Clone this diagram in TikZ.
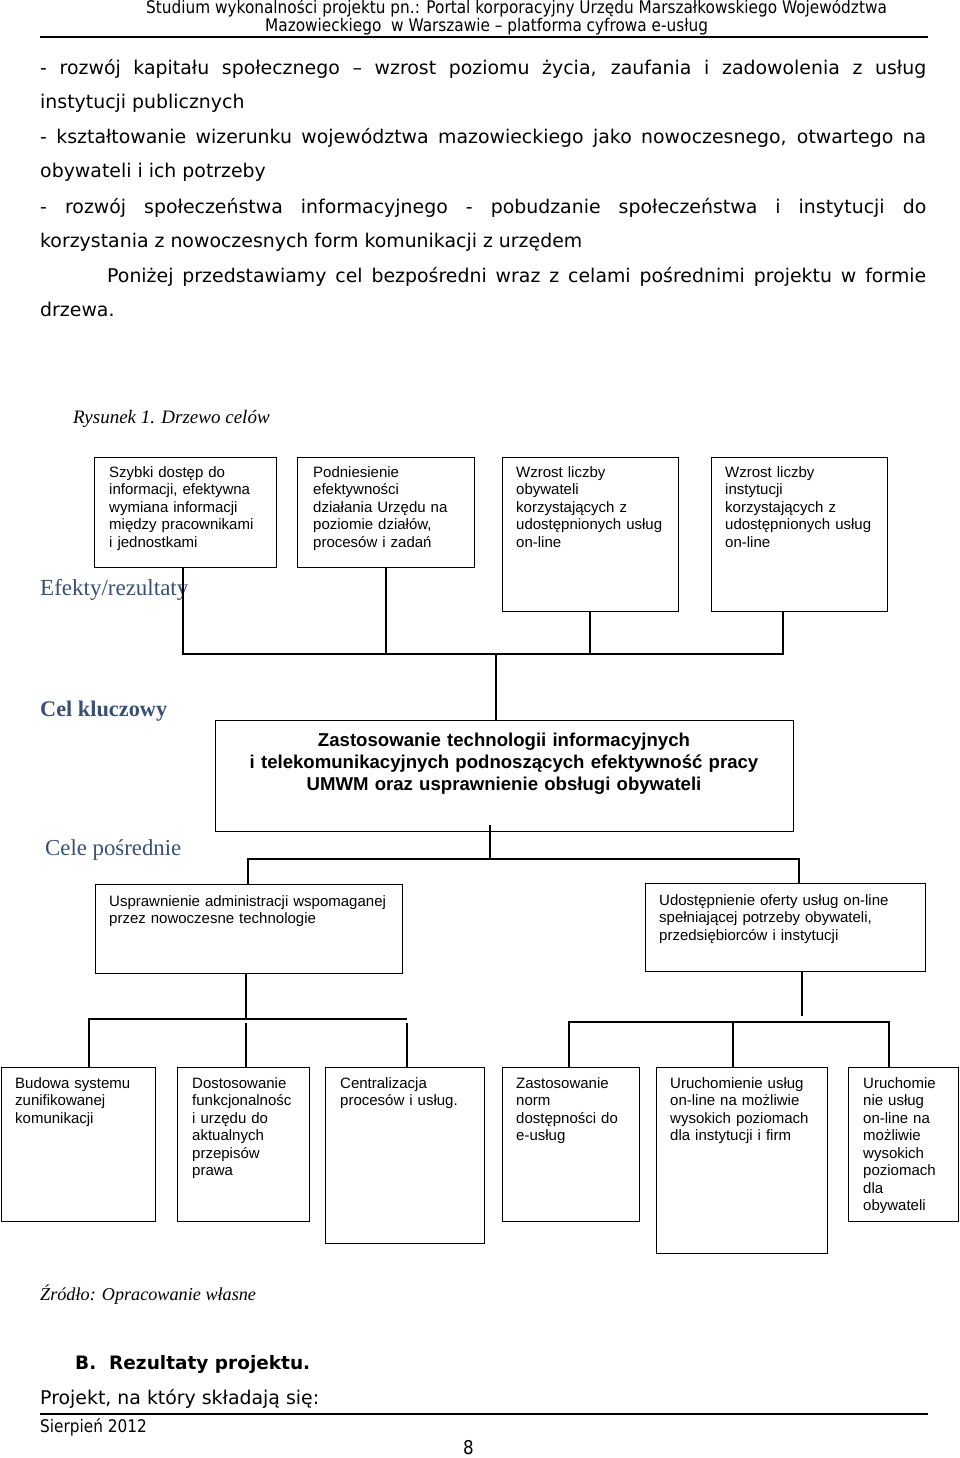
\documentclass[tikz,border=0pt]{standalone}
\usepackage{fontspec}
\setmainfont{Liberation Serif}
\newfontfamily\verd{DejaVu Sans}
\newfontfamily\ari{Liberation Sans}
\newfontfamily\hdr[FakeStretch=0.88]{DejaVu Sans}
\definecolor{lab}{RGB}{55,80,115}
\tikzset{
  box/.style={draw, line width=1.4pt, anchor=north west, inner sep=0pt},
  conn/.style={line width=1.4pt},
  btxt/.style={anchor=base west, inner sep=0pt, text width=300pt, align=left, font=\ari\fontsize{15}{17.5}\selectfont},
  body/.style={anchor=base west, inner sep=0pt, font=\verd\fontsize{18.9}{22}\selectfont},
  hd/.style={anchor=base west, inner sep=0pt, font=\hdr\fontsize{17.4}{20}\selectfont},
  lbl/.style={anchor=base west, inner sep=0pt, text=lab, font=\fontsize{23}{26}\selectfont},
}
\begin{document}
\begin{tikzpicture}[x=1pt,y=-1pt]
\useasboundingbox (0,0) rectangle (960,1458);
% header
\node[hd] (h1) at (146,14) {Studium wykonalności projektu pn.: Portal korporacyjny Urzędu Marszałkowskiego Województwa};
\node[hd] (h2) at (265,32) {Mazowieckiego\ \ w Warszawie – platforma cyfrowa e-usług};
\draw[line width=1.2pt] (40,37) coordinate (hr1) -- (928,37) coordinate (hr2);
% body text
\node[body] (t1) at (40,75) {\makebox[886pt][s]{- rozwój kapitału społecznego – wzrost poziomu życia, zaufania i zadowolenia z usług}};
\node[body] (t2) at (40,109) {instytucji publicznych};
\node[body] (t3) at (40,144) {\makebox[886pt][s]{- kształtowanie wizerunku województwa mazowieckiego jako nowoczesnego, otwartego na}};
\node[body] (t4) at (40,178) {obywateli i ich potrzeby};
\node[body] (t5) at (40,213) {\makebox[886pt][s]{- rozwój społeczeństwa informacyjnego - pobudzanie społeczeństwa i instytucji do}};
\node[body] (t6) at (40,247) {korzystania z nowoczesnych form komunikacji z urzędem};
\node[body] (t7) at (107,282) {\makebox[819pt][s]{Poniżej przedstawiamy cel bezpośredni wraz z celami pośrednimi projektu w formie}};
\node[body] (t8) at (40,316) {drzewa.};
\node[anchor=base west, inner sep=0pt, font=\itshape\fontsize{19}{22}\selectfont] (rys) at (73,423) {Rysunek 1. Drzewo celów};
% effects boxes
\node[box, minimum width=182pt, minimum height=110pt] (e1) at (94,457) {};
\node[box, minimum width=177pt, minimum height=110pt] (e2) at (297,457) {};
\node[box, minimum width=176pt, minimum height=154pt] (e3) at (502,457) {};
\node[box, minimum width=176pt, minimum height=154pt] (e4) at (711,457) {};
\node[btxt] (e1t) at (109,477) {Szybki dostęp do\\informacji, efektywna\\wymiana informacji\\między pracownikami\\i jednostkami};
\node[btxt] (e2t) at (313,477) {Podniesienie\\efektywności\\działania Urzędu na\\poziomie działów,\\procesów i zadań};
\node[btxt] (e3t) at (516,477) {Wzrost liczby\\obywateli\\korzystających z\\udostępnionych usług\\on-line};
\node[btxt] (e4t) at (725,477) {Wzrost liczby\\instytucji\\korzystających z\\udostępnionych usług\\on-line};
\node[lbl] (lef) at (40,595) {Efekty/rezultaty};
% connectors top
\coordinate (c1) at (183,654);
\coordinate (c2) at (386,654);
\coordinate (c3) at (590,654);
\coordinate (c4) at (783,654);
\coordinate (c0) at (496,654);
\draw[conn] (c1 |- e1.south) -- (c1) -- (c4) -- (c4 |- e4.south);
\draw[conn] (c2 |- e2.south) -- (c2);
\draw[conn] (c3 |- e3.south) -- (c3);
% key box
\node[lbl, font=\bfseries\fontsize{22.3}{26}\selectfont] (lkey) at (40,716) {Cel kluczowy};
\node[box, minimum width=578pt, minimum height=111pt] (key) at (215,720) {};
\draw[conn] (c0) -- (c0 |- key.north);
\node[anchor=base, inner sep=0pt, text width=570pt, align=center, font=\ari\bfseries\fontsize{18.6}{22}\selectfont] (keyt) at (504,746) {Zastosowanie technologii informacyjnych\\i telekomunikacyjnych podnoszących efektywność pracy\\UMWM oraz usprawnienie obsługi obywateli};
\node[lbl, font=\fontsize{22.8}{26}\selectfont] (lcel) at (45,855) {Cele pośrednie};
% middle boxes
\node[box, minimum width=307pt, minimum height=89pt] (m1) at (95,884) {};
\node[box, minimum width=280pt, minimum height=88pt] (m2) at (645,883) {};
\node[btxt, text width=400pt] (m1t) at (109,906) {Usprawnienie administracji wspomaganej\\przez nowoczesne technologie};
\node[btxt, text width=400pt] (m2t) at (659,905) {Udostępnienie oferty usług on-line\\spełniającej potrzeby obywateli,\\przedsiębiorców i instytucji};
\coordinate (k0) at (490,825);
\coordinate (k1) at (490,859);
\coordinate (kl) at (248,859);
\coordinate (kr) at (799,859);
\draw[conn] (k0) -- (k1);
\draw[conn] (kl |- m1.north) -- (kl) -- (kr) -- (kr |- m2.north);
% bottom boxes
\node[box, minimum width=154pt, minimum height=154pt] (b1) at (1,1067) {};
\node[box, minimum width=132pt, minimum height=154pt] (b2) at (177,1067) {};
\node[box, minimum width=159pt, minimum height=176pt] (b3) at (325,1067) {};
\node[box, minimum width=137pt, minimum height=154pt] (b4) at (502,1067) {};
\node[box, minimum width=171pt, minimum height=186pt] (b5) at (656,1067) {};
\node[box, minimum width=110pt, minimum height=154pt] (b6) at (848,1067) {};
\node[btxt] (b1t) at (15,1088) {Budowa systemu\\zunifikowanej\\komunikacji};
\node[btxt] (b2t) at (192,1088) {Dostosowanie\\funkcjonalnośc\\i urzędu do\\aktualnych\\przepisów\\prawa};
\node[btxt] (b3t) at (340,1088) {Centralizacja\\procesów i usług.};
\node[btxt] (b4t) at (516,1088) {Zastosowanie\\norm\\dostępności do\\e-usług};
\node[btxt] (b5t) at (670,1088) {Uruchomienie usług\\on-line na możliwie\\wysokich poziomach\\dla instytucji i firm};
\node[btxt] (b6t) at (863,1088) {Uruchomie\\nie usług\\on-line na\\możliwie\\wysokich\\poziomach\\dla\\obywateli};
% left subtree
\coordinate (l0) at (246,1019);
\coordinate (l1) at (89,1019);
\coordinate (l3) at (407,1019);
\draw[conn] (l0 |- m1.south) -- (l0);
\draw[conn] (l1 |- b1.north) -- (l1) -- (l3);
\draw[conn] (246,1023) coordinate (l2a) -- (l2a |- b2.north);
\draw[conn] (407,1023) coordinate (l3a) -- (l3a |- b3.north);
% right subtree
\coordinate (r0) at (802,1016);
\coordinate (r1) at (569,1022);
\coordinate (r2) at (733,1022);
\coordinate (r3) at (889,1022);
\draw[conn] (r0 |- m2.south) -- (r0);
\draw[conn] (r1 |- b4.north) -- (r1) -- (r3) -- (r3 |- b6.north);
\draw[conn] (r2) -- (r2 |- b5.north);
% footer
\node[anchor=base west, inner sep=0pt, font=\itshape\fontsize{18.2}{22}\selectfont] (zr) at (40,1300) {Źródło: Opracowanie własne};
\node[body, font=\verd\bfseries\fontsize{18.5}{22}\selectfont] (brez) at (75,1369) {B.\ \ Rezultaty projektu.};
\node[body] (proj) at (40,1404) {Projekt, na który składają się:};
\draw[line width=1.2pt] (40,1414) coordinate (fr1) -- (928,1414) coordinate (fr2);
\node[hd, font=\hdr\fontsize{17.4}{20}\selectfont] (sie) at (40,1432) {Sierpień 2012};
\node[hd, font=\hdr\fontsize{19}{22}\selectfont] (pg) at (463,1454) {8};
\end{tikzpicture}
\end{document}
